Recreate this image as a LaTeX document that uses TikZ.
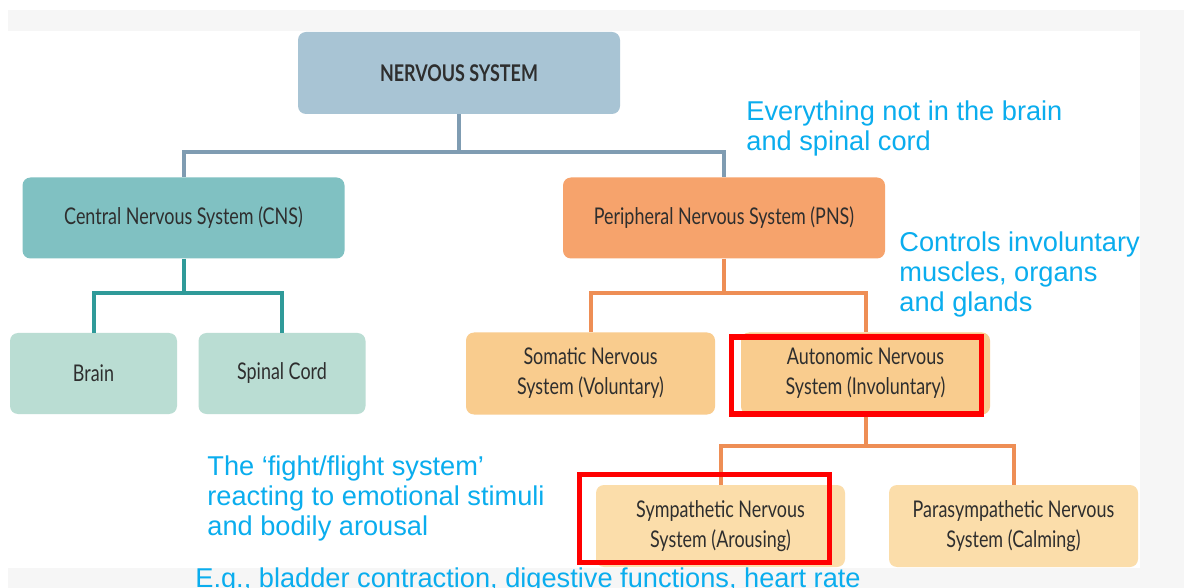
\documentclass[tikz,border=0pt]{standalone}
\usepackage{fontspec}
\setmainfont{Liberation Sans}
\newfontfamily\boxfont[FakeStretch=0.78]{Lato}
\definecolor{nsfill}{HTML}{A8C4D4}
\definecolor{nsline}{HTML}{7F9CB2}
\definecolor{cnsfill}{HTML}{80C1C2}
\definecolor{cnsline}{HTML}{2F9A99}
\definecolor{cnsleaf}{HTML}{BADDD3}
\definecolor{pnsfill}{HTML}{F6A36C}
\definecolor{pnsline}{HTML}{EE8E55}
\definecolor{pnsleaf}{HTML}{F9CC8E}
\definecolor{ansleaf}{HTML}{FBDDAA}
\definecolor{boxtext}{HTML}{2E2E2E}
\definecolor{note}{HTML}{0AADEE}
\definecolor{panel}{HTML}{F6F6F6}
\tikzset{
	sysbox/.style={rounded corners=4pt, align=center, inner sep=2pt,
		font=\boxfont\fontsize{11.5}{15}\selectfont, text=boxtext},
	wide/.style={sysbox, minimum width=161pt, minimum height=40.5pt},
	leaf/.style={sysbox, minimum width=83.5pt, minimum height=40.5pt},
	half/.style={sysbox, minimum width=124.5pt, minimum height=41pt},
	link/.style={line width=2pt},
	hilite/.style={draw=red, line width=2.8pt},
	note/.style={anchor=north west, inner sep=0pt, align=left, text=note,
		font=\fontsize{13.6}{15.2}\selectfont},
}

\begin{document}
\begin{tikzpicture}[x=0.5pt, y=-0.5pt]
	\clip (0,0) rectangle (1184,588);
	\fill[white] (0,0) rectangle (1184,588);
	\fill[panel] (8,10) rectangle (1184,588);
	\fill[white] (8,31) rectangle (1140,568);

	% top level
	\node[wide, fill=nsfill, minimum height=41pt] (ns) at (459,73) {\textbf{NERVOUS SYSTEM}};
	\node[wide, fill=cnsfill] (cns) at (183.5,218) {Central Nervous System (CNS)};
	\node[wide, fill=pnsfill] (pns) at (724,218) {Peripheral Nervous System (PNS)};

	% CNS branch
	\node[leaf, fill=cnsleaf] (brain) at (93.5,373.5) {Brain};
	\node[leaf, fill=cnsleaf] (spine) at (282,373.5) {Spinal Cord};

	% PNS branch
	\node[half, fill=pnsleaf] (somatic) at (590.5,373.5) {Somatic Nervous\\System (Voluntary)};
	\node[half, fill=pnsleaf] (auto) at (865.5,373.5) {Autonomic Nervous\\System (Involuntary)};
	\node[half, fill=ansleaf] (symp) at (720.5,526) {Sympathetic Nervous\\System (Arousing)};
	\node[half, fill=ansleaf] (para) at (1013.5,526) {Parasympathetic Nervous\\System (Calming)};

	% tree lines
	\draw[link, nsline] (ns.south) -- ++(0,38) -| (cns.north);
	\draw[link, nsline] (ns.south) -- ++(0,38) -| (pns.north);
	\draw[link, cnsline] (cns.south) -- ++(0,34) -| (brain.north);
	\draw[link, cnsline] (cns.south) -- ++(0,34) -| (spine.north);
	\draw[link, pnsline] (pns.south) -- ++(0,34) -| (somatic.north);
	\draw[link, pnsline] (pns.south) -- ++(0,34) -| (auto.north);
	\draw[link, pnsline] (auto.south) -- ++(0,31) -| (symp.north);
	\draw[link, pnsline] (auto.south) -- ++(0,31) -| (para.north);

	% red markers
	\draw[hilite] ([xshift=-4.5pt, yshift=-2.5pt]auto.north west) rectangle ([xshift=-4.5pt, yshift=0.5pt]auto.south east);
	\draw[hilite] ([xshift=-8pt, yshift=5pt]symp.north west) rectangle ([xshift=-8pt, yshift=2.5pt]symp.south east);

	% notes
	\node[note] (pnsnote) at (746,100) {Everything not in the brain\\and spinal cord};
	\node[note] (ansnote) at (899,231) {Controls involuntary\\muscles, organs\\and glands};
	\node[note] (sympnote) at (207,455) {The ‘fight/flight system’\\reacting to emotional stimuli\\and bodily arousal};
	\node[note] (example) at (195,567) {E.g., bladder contraction, digestive functions, heart rate};
\end{tikzpicture}
\end{document}
